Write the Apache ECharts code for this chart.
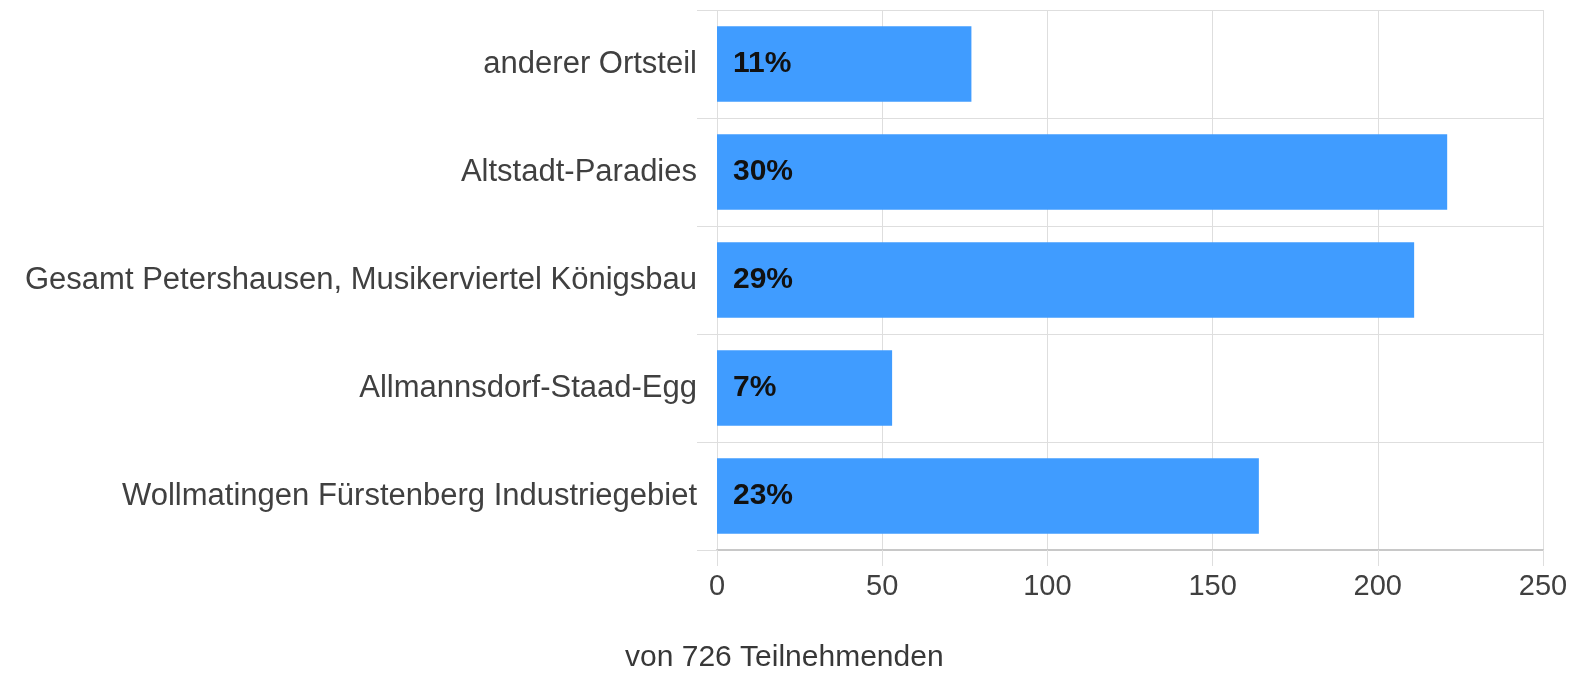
<!DOCTYPE html>
<html lang="de">

<head>
    <meta charset="UTF-8">
    <title>Teilnehmende nach Ortsteil</title>
    <style>
        html, body { margin: 0; padding: 0; background: #fff; }
        #box { width: 1575px; height: 675px; }
    </style>
    <script src="https://cdn.jsdelivr.net/npm/echarts@6/dist/echarts.min.js"></script>
</head>

<body>
    <div id="box"></div>
    <script>
        // Ortsteile, von oben nach unten
        const categories = [
            'anderer Ortsteil',
            'Altstadt-Paradies',
            'Gesamt Petershausen, Musikerviertel Königsbau',
            'Allmannsdorf-Staad-Egg',
            'Wollmatingen Fürstenberg Industriegebiet'
        ];
        // Anzahl Teilnehmende
        const counts = [77, 221, 211, 53, 164];
        // Beschriftung im Balken
        const shares = ['11%', '30%', '29%', '7%', '23%'];
        const xTicks = [0, 50, 100, 150, 200, 250];

        (function () {
            let chart = echarts.init(box);
            let gridColor = '#dedede';
            let font = '"Liberation Sans", Arial, sans-serif';

            chart.setOption({
                animation: false,
                title: {
                    text: 'von 726 Teilnehmenden',
                    left: 620,
                    top: 638,
                    textStyle: { fontFamily: font, fontWeight: 'normal', fontSize: 30, color: '#383838' }
                },
                grid: { left: 717, right: 32, top: 10, bottom: 125 },
                xAxis: {
                    type: 'value',
                    min: xTicks[0],
                    max: xTicks[xTicks.length - 1],
                    interval: xTicks[1] - xTicks[0],
                    axisLine: { show: true, lineStyle: { color: '#c8c8c8', width: 2 } },
                    axisTick: { show: true, length: 16, lineStyle: { color: gridColor } },
                    splitLine: { show: true, lineStyle: { color: gridColor } },
                    axisLabel: { margin: 22, fontFamily: font, fontSize: 29, color: '#404040' }
                },
                yAxis: {
                    type: 'category',
                    inverse: true,
                    data: categories,
                    axisLine: { show: false },
                    axisTick: { show: true, length: 20, lineStyle: { color: gridColor } },
                    splitLine: { show: true, lineStyle: { color: gridColor } },
                    axisLabel: { margin: 20, fontFamily: font, fontSize: 31, color: '#404040' }
                },
                series: [{
                    type: 'bar',
                    data: counts,
                    barCategoryGap: '30%',
                    itemStyle: { color: '#409cff' },
                    label: {
                        show: true,
                        position: 'insideLeft',
                        distance: 16,
                        formatter: p => shares[p.dataIndex],
                        fontFamily: font,
                        fontWeight: 'bold',
                        fontSize: 30,
                        color: '#111'
                    }
                }]
            });
        })();
    </script>
</body>

</html>
